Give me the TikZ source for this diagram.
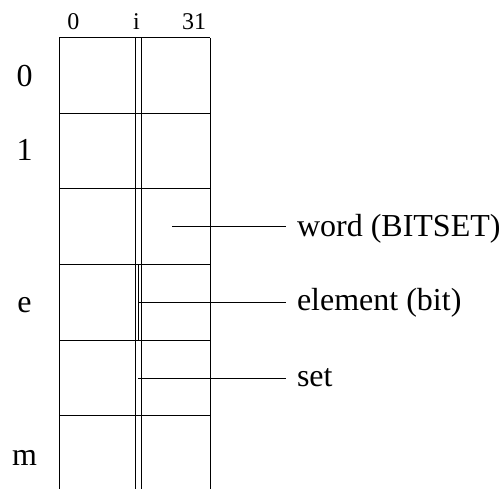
\documentclass[tikz,border=0pt]{standalone}
\usepackage{fontspec}
\setmainfont{Liberation Serif}
\begin{document}
\begin{tikzpicture}[x=1pt,y=-1pt,line width=1pt,
  big/.style={font=\fontsize{32}{36}\selectfont, inner sep=0pt},
  small/.style={font=\fontsize{24}{28}\selectfont, inner sep=0pt},
  callout/.style={big, anchor=base west, inner xsep=10.5pt, inner ysep=0pt}]
\useasboundingbox (0,0) rectangle (501,489);
% grid
\foreach \x in {59,135,141.5,210} \draw (\x,38) -- (\x,489);
\foreach \y in {38,113.5,189,264.5,340,415.5} \draw (59,\y) -- (210,\y);
\draw (138.3,264.5) -- (138.3,340);
% column labels
\node[small, anchor=base] (c0) at (73.3,30) {0};
\node[small, anchor=base] (ci) at (136.5,30) {i};
\node[small, anchor=base] (c31) at (194,30) {31};
% row labels
\node[big, anchor=base] (r0) at (24.5,87) {0};
\node[big, anchor=base] (r1) at (24.5,160.5) {1};
\node[big, anchor=base] (re) at (24.5,312.5) {e};
\node[big, anchor=base] (rm) at (24.5,465) {m};
% callouts
\coordinate (wp) at (172,227);
\coordinate (ep) at (138.3,302.7);
\coordinate (sp) at (138.3,378);
\node[callout] (word) at (286,236.5) {word (BITSET)};
\node[callout] (elem) at (286,310.5) {element (bit)};
\node[callout] (set) at (286,386.5) {set};
\draw (wp) -- (word.west |- wp);
\draw (ep) -- (elem.west |- ep);
\draw (sp) -- (set.west |- sp);
\end{tikzpicture}
\end{document}
